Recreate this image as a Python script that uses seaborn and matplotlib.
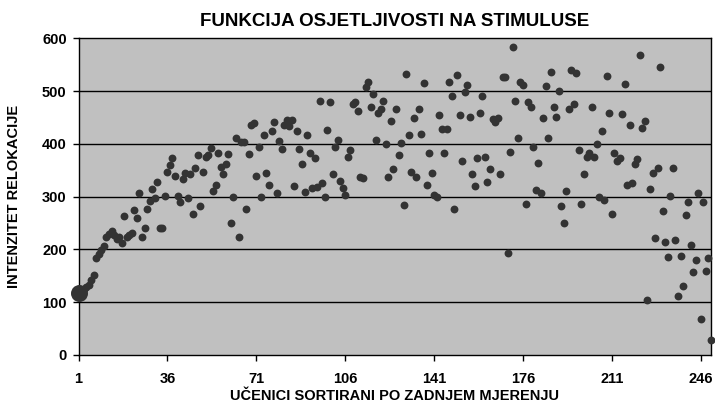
import matplotlib
matplotlib.use("Agg")
import matplotlib.pyplot as plt
import numpy as np
import seaborn as sns

relokacija = [
    118, 121, 125, 129, 133, 142, 152, 183, 192, 199,
    207, 224, 230, 235, 227, 220, 224, 213, 263, 224,
    228, 232, 275, 260, 306, 224, 241, 277, 292, 315,
    297, 328, 241, 241, 302, 347, 360, 373, 339, 302,
    289, 333, 344, 298, 342, 268, 354, 378, 282, 347,
    376, 379, 392, 310, 322, 383, 357, 343, 362, 380,
    251, 299, 412, 224, 404, 403, 277, 380, 436, 440,
    340, 395, 299, 416, 344, 323, 424, 441, 306, 406,
    390, 436, 445, 433, 445, 321, 424, 390, 361, 308,
    417, 382, 316, 373, 318, 482, 325, 299, 426, 480,
    342, 395, 407, 330, 316, 304, 376, 388, 476, 480,
    463, 338, 336, 507, 518, 469, 494, 407, 459, 466,
    482, 400, 338, 444, 352, 467, 379, 402, 284, 533,
    417, 347, 449, 338, 467, 419, 515, 322, 382, 344,
    304, 299, 455, 428, 382, 428, 518, 490, 277, 531,
    455, 368, 499, 512, 450, 342, 321, 374, 458, 490,
    376, 327, 352, 447, 442, 449, 342, 526, 526, 193,
    385, 583, 482, 412, 518, 512, 287, 480, 469, 395,
    313, 364, 306, 449, 509, 412, 537, 469, 450, 501,
    282, 251, 311, 467, 540, 476, 535, 388, 287, 342,
    376, 382, 469, 376, 400, 300, 425, 294, 529, 458,
    267, 383, 368, 373, 456, 514, 323, 436, 325, 362,
    371, 569, 431, 444, 105, 314, 344, 221, 355, 545,
    272, 215, 185, 301, 355, 217, 112, 188, 130, 265,
    289, 208, 157, 180, 306, 68, 289, 159, 183, 28,
]
ucenici = np.arange(1, len(relokacija) + 1)
x_ticks = [1, 36, 71, 106, 141, 176, 211, 246]
y_ticks = [0, 100, 200, 300, 400, 500, 600]

sns.set_style("white")
plt.rcParams['font.family'] = ['Liberation Sans', 'DejaVu Sans']
plt.rcParams['font.weight'] = 'bold'
plt.rcParams['text.color'] = 'black'
plt.rcParams['axes.labelcolor'] = 'black'
plt.rcParams['xtick.color'] = 'black'
plt.rcParams['ytick.color'] = 'black'

fig = plt.figure(figsize=(7.15, 4.04), dpi=100, facecolor='white')
ax = fig.add_axes([0.1098, 0.1213, 0.8846, 0.7839])
ax.set_facecolor('#C0C0C0')

for yv in y_ticks[1:-1]:
    ax.axhline(yv, color='black', linewidth=1.0, zorder=1)

sns.scatterplot(x=ucenici[1:], y=relokacija[1:], color='#333333', s=32,
                linewidth=0, ax=ax, zorder=3, clip_on=False, legend=False)
# first pupil is drawn with the bigger marker
sns.scatterplot(x=ucenici[:1], y=relokacija[:1], color='#333333', s=150,
                linewidth=0, ax=ax, zorder=4, clip_on=False, legend=False)

ax.set_xlim(1, 250)
ax.set_ylim(0, 600)
ax.set_xticks(x_ticks)
ax.set_yticks(y_ticks)
ax.tick_params(axis='both', direction='out', length=4.5, width=1.0, color='black',
               labelsize=10.5, labelcolor='black')
ax.tick_params(axis='x', pad=8)
ax.tick_params(axis='y', pad=4)
ax.tick_params(bottom=True, left=True)
for lab in ax.get_xticklabels() + ax.get_yticklabels():
    lab.set_fontweight('bold')

for sp in ax.spines.values():
    sp.set_color('black')
    sp.set_linewidth(1.0)

ax.set_title('FUNKCIJA OSJETLJIVOSTI NA STIMULUSE', fontsize=13.5, fontweight='bold',
             y=1.053, va='center', pad=0, color='black')
ax.set_xlabel('UČENICI SORTIRANI PO ZADNJEM MJERENJU', fontsize=10.5, fontweight='bold')
ax.xaxis.set_label_coords(0.5, -0.143)
ax.xaxis.label.set_verticalalignment('baseline')
ax.set_ylabel('INTENZITET RELOKACIJE', fontsize=10.5, fontweight='bold')
ax.yaxis.set_label_coords(-0.102, 0.5)
ax.yaxis.label.set_verticalalignment('center')

fig.savefig('out.png', dpi=100, facecolor='white')
